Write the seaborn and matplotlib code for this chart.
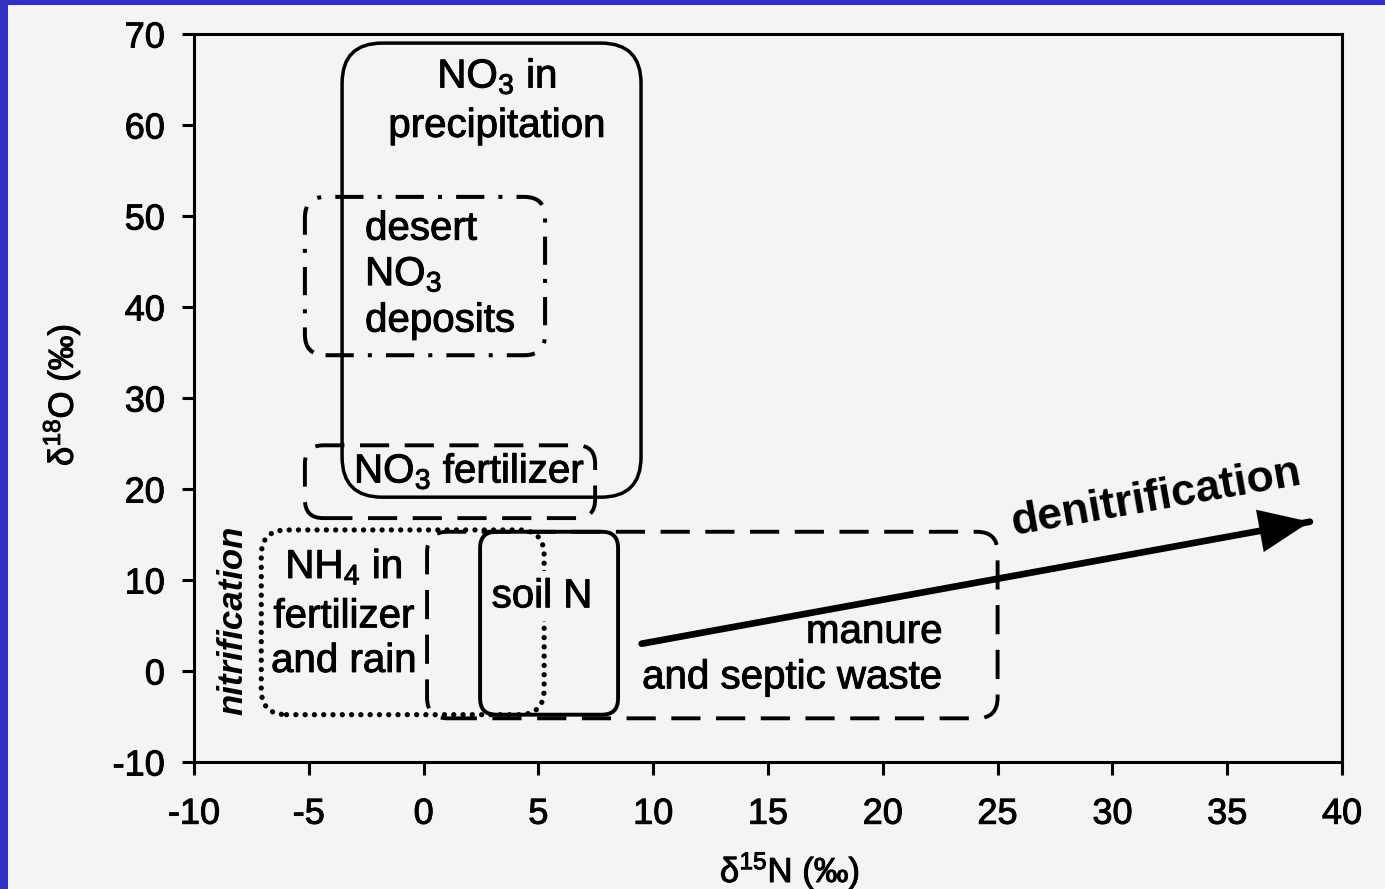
import matplotlib
matplotlib.use("Agg")
import matplotlib.pyplot as plt
import matplotlib.patheffects as pe
from matplotlib.patches import FancyBboxPatch, Rectangle
import seaborn as sns

# Source fields: (x0, x1, y0, y1) in per-mil space
precip_box = [-3.55, 9.47, 19.1, 69.0]
desert_box = [-5.17, 5.29, 34.7, 52.1]
no3_fert_box = [-5.17, 7.47, 16.8, 24.8]
nh4_box = [-7.07, 5.25, -4.8, 15.5]
soil_box = [2.46, 8.47, -4.8, 15.3]
manure_box = [0.15, 25.0, -5.2, 15.3]

# Denitrification trend: start and tip
arrow_x = [9.5, 38.6]
arrow_y = [3.0, 16.4]

x_ticks = [-10, -5, 0, 5, 10, 15, 20, 25, 30, 35, 40]
y_ticks = [-10, 0, 10, 20, 30, 40, 50, 60, 70]

sns.set_theme(style="ticks")
plt.rcParams["font.family"] = ["Liberation Sans", "DejaVu Sans"]
plt.rcParams["mathtext.fontset"] = "custom"
plt.rcParams["mathtext.rm"] = "Liberation Sans"
plt.rcParams["mathtext.it"] = "Liberation Sans:italic"
plt.rcParams["mathtext.bf"] = "Liberation Sans:bold"
plt.rcParams["text.color"] = "black"
plt.rcParams["axes.labelcolor"] = "black"

BG = "#f4f4f4"
heavy = [pe.withStroke(linewidth=0.7, foreground="black")]

fig = plt.figure(figsize=(13.85, 8.89), dpi=100, facecolor=BG)
ax = fig.add_axes([194 / 1385, 1 - 762 / 889, 1148 / 1385, 728 / 889])
ax.set_facecolor(BG)

# Blue slide frame along the left and top edges
fig.patches.append(Rectangle((0, 0), 8 / 1385, 1, transform=fig.transFigure,
                             facecolor="#3131c2", edgecolor="none", zorder=-5))
fig.patches.append(Rectangle((0, 1 - 5 / 889), 1, 5 / 889, transform=fig.transFigure,
                             facecolor="#3131c2", edgecolor="none", zorder=-5))

ax.set_xlim(-10, 40)
ax.set_ylim(-10, 70)

# pixel aspect: y data units per x data unit at equal screen length
aspect = (1148 / 50) / (728 / 80)

LW = 2.5


def rbox(b, radius, ls, lw=LW, cap="butt"):
    x0, x1, y0, y1 = b
    p = FancyBboxPatch((x0, y0), x1 - x0, y1 - y0,
                       boxstyle=f"round,pad=0,rounding_size={radius}",
                       mutation_aspect=aspect, facecolor="none",
                       edgecolor="black", linewidth=lw, linestyle=ls, zorder=3)
    p.set_capstyle(cap)
    ax.add_patch(p)


rbox(precip_box, 1.75, "-")
rbox(desert_box, 0.9, (0, (7, 3.5, 1.0, 3.5)), lw=2.9)
rbox(no3_fert_box, 0.8, (0, (7.5, 4)), lw=2.8)
rbox(nh4_box, 1.1, (0, (0.01, 1.75)), lw=3.8, cap="round")
rbox(soil_box, 0.7, "-", lw=2.8)
rbox(manure_box, 0.9, (0, (7.5, 4)), lw=2.8)

# Arrow shaft through seaborn, head through annotate
sns.lineplot(x=arrow_x, y=arrow_y, color="black", linewidth=4.8, ax=ax,
             zorder=4, sort=False)
ax.annotate("", xy=(arrow_x[1], arrow_y[1]),
            xytext=(arrow_x[1] - 0.4 * (arrow_x[1] - arrow_x[0]),
                    arrow_y[1] - 0.4 * (arrow_y[1] - arrow_y[0])),
            arrowprops=dict(arrowstyle="-|>,head_length=1.3,head_width=0.55",
                            mutation_scale=28, color="black", lw=0.1,
                            shrinkA=0, shrinkB=0), zorder=5)

fs = 29
labels = [
    (3.2, 64.1, "NO$_3$ in", "center"),
    (3.2, 58.7, "precipitation", "center"),
    (-2.55, 47.4, "desert", "left"),
    (-2.55, 42.4, "NO$_3$", "left"),
    (-2.55, 37.3, "deposits", "left"),
    (2.0, 20.7, "NO$_3$ fertilizer", "center"),
    (-3.47, 10.2, "NH$_4$ in", "center"),
    (-3.47, 4.8, "fertilizer", "center"),
    (-3.47, -0.1, "and rain", "center"),
    (22.6, 3.1, "manure", "right"),
    (22.6, -1.9, "and septic waste", "right"),
]
for x, y, s, ha in labels:
    ax.text(x, y, s, ha=ha, va="baseline", fontsize=fs, path_effects=heavy)
ax.text(5.16, 7.0, "soil N", ha="center", va="baseline", fontsize=fs, zorder=6,
        path_effects=heavy,
        bbox=dict(boxstyle="square,pad=0.15", facecolor=BG, edgecolor="none"))
ax.text(25.67, 14.95, "denitrification", ha="left", va="baseline",
        rotation=10, rotation_mode="anchor", fontsize=32, fontweight="bold")
ax.text(-8.3, 5.6, "nitrification", ha="center", va="center", rotation=90,
        fontsize=25, fontweight="bold", fontstyle="italic")

ax.set_xticks(x_ticks)
ax.set_yticks(y_ticks)
ax.set_xticklabels([str(v) for v in x_ticks])
ax.set_yticklabels([str(v) for v in y_ticks])
ax.tick_params(axis="both", direction="out", length=9, width=2.2,
               labelsize=26, colors="black")
ax.tick_params(axis="x", pad=16)
ax.tick_params(axis="y", pad=12)
for lbl in ax.get_xticklabels() + ax.get_yticklabels():
    lbl.set_path_effects(heavy)
for s in ax.spines.values():
    s.set_visible(True)
    s.set_linewidth(2.2)
    s.set_color("black")

ax.set_xlabel("δ$^{15}$N (‰)", fontsize=25, path_effects=heavy)
ax.set_ylabel("δ$^{18}$O (‰)", fontsize=25, path_effects=heavy)
ax.xaxis.set_label_coords((790 - 194) / 1148, (762 - 850) / 728)
ax.yaxis.set_label_coords((82 - 194) / 1148, (762 - 395) / 728)

fig.savefig("out.png", dpi=100, facecolor=BG)
